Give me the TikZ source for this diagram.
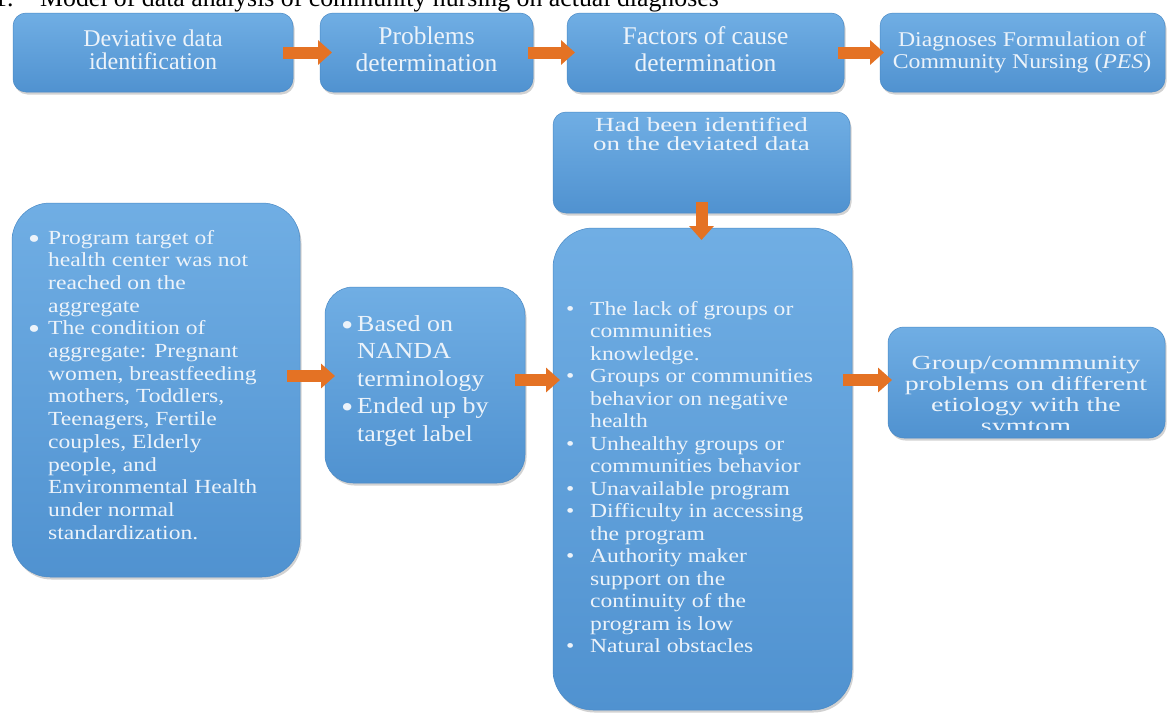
\documentclass[tikz,border=0pt]{standalone}
\usepackage{fontspec}
\setmainfont{Liberation Serif}
\newfontfamily\fsA[FakeStretch=1.18]{Liberation Serif}
\newfontfamily\fsB[FakeStretch=1.13]{Liberation Serif}
\newfontfamily\fsC[FakeStretch=1.35]{Liberation Serif}
\newfontfamily\fsD[FakeStretch=1.40]{Liberation Serif}
\usetikzlibrary{shadows,arrows.meta,calc}

\definecolor{boxtop}{RGB}{112,174,228}
\definecolor{boxbot}{RGB}{80,146,208}
\definecolor{boxline}{RGB}{74,138,198}
\definecolor{txtwhite}{RGB}{236,243,250}
\definecolor{arrorange}{RGB}{228,114,36}

\newcommand{\ctab}[1]{\begin{tabular}[t]{@{}c@{}}#1\end{tabular}}
\newcommand{\ltab}[1]{\begin{tabular}[t]{@{}l@{}}#1\end{tabular}}
\newlength{\bw}
\newcommand{\bscale}{1}
\newcommand{\blow}{0ex}
\newcommand{\bu}{\makebox[\bw][l]{\raisebox{\blow}{\scalebox{\bscale}{\textbullet}}}}
\newcommand{\nb}{\hspace*{\bw}}

\begin{document}
\begin{tikzpicture}[x=1pt,y=-1pt,
  box/.style={draw=boxline, line width=0.5pt, top color=boxtop, bottom color=boxbot,
    drop shadow={shadow xshift=1.5pt, shadow yshift=-2.5pt, opacity=0.35},
    anchor=north west, inner sep=0pt, outer sep=0pt},
  tx/.style={text=txtwhite, inner sep=0pt, anchor=base},
  txl/.style={text=txtwhite, inner sep=0pt, anchor=base west},
  conn/.style={draw=arrorange, line width=12pt, -{Triangle[width=24pt,length=14pt]}}
]
\useasboundingbox (0,0) rectangle (1168,720);
\fill[white] (0,0) rectangle (1168,720);

% title (cut at top edge)
\node[anchor=base west, inner sep=0pt, font=\fontsize{25.8}{30}\selectfont] (title) at (-6,6)
  {\makebox[46pt][l]{1.}Model of data analysis of community nursing on actual diagnoses};

% top row boxes
\node[box, rounded corners=13pt, minimum width=280pt, minimum height=79pt] (b1) at (13,13) {};
\node[box, rounded corners=13pt, minimum width=213pt, minimum height=79pt] (b2) at (320,13) {};
\node[box, rounded corners=13pt, minimum width=277pt, minimum height=79pt] (b3) at (567,13) {};
\node[box, rounded corners=13pt, minimum width=285pt, minimum height=79pt] (b4) at (880,13) {};

\node[tx, font=\fontsize{24}{23}\selectfont] (t1) at (153,46) {\ctab{Deviative data\\identification}};
\node[tx, font=\fontsize{25.5}{26.5}\selectfont] (t2) at (426.5,45) {\ctab{Problems\\determination}};
\node[tx, font=\fontsize{25.5}{26.5}\selectfont] (t3) at (705.5,45) {\ctab{Factors of cause\\determination}};
\node[tx, font=\fsB\fontsize{21}{22}\selectfont] (t4) at (1022,46) {\ctab{Diagnoses Formulation of\\Community Nursing (\textit{PES})}};

% second row boxes
\node[box, rounded corners=13pt, minimum width=297pt, minimum height=101pt] (hb) at (553,112) {};
\node[box, rounded corners=40pt, minimum width=299pt, minimum height=482pt] (big) at (553,228) {};
\node[box, rounded corners=38pt, minimum width=288pt, minimum height=374pt] (left) at (12,203) {};
\node[box, rounded corners=28pt, minimum width=200pt, minimum height=196pt] (nanda) at (325,287) {};
\node[box, rounded corners=16pt, minimum width=277pt, minimum height=111pt] (right) at (888,327) {};

\node[tx, font=\fsC\fontsize{20}{19}\selectfont] (thb) at (701.5,131) {\ctab{Had been identified\\on the deviated data}};

\node[txl, font=\fsA\fontsize{20}{22.7}\selectfont] (tleft) at (28,244) {\setlength{\bw}{20pt}\renewcommand{\bscale}{1.45}\renewcommand{\blow}{-0.45ex}\ltab{%
\bu Program target of\\
\nb health center was not\\
\nb reached on the\\
\nb aggregate\\
\bu The condition of\\
\nb aggregate: Pregnant\\
\nb women, breastfeeding\\
\nb mothers, Toddlers,\\
\nb Teenagers, Fertile\\
\nb couples, Elderly\\
\nb people, and\\
\nb Environmental Health\\
\nb under normal\\
\nb standardization.}};

\node[txl, font=\fsB\fontsize{23}{27.5}\selectfont] (tnanda) at (341,331) {\setlength{\bw}{16pt}\renewcommand{\bscale}{1.35}\renewcommand{\blow}{-0.4ex}\ltab{%
\bu Based on\\
\nb NANDA\\
\nb terminology\\
\bu Ended up by\\
\nb target label}};

\node[txl, font=\fsA\fontsize{20}{22.5}\selectfont] (tbig) at (566,315) {\setlength{\bw}{24pt}\ltab{%
\bu The lack of groups or\\
\nb communities\\
\nb knowledge.\\
\bu Groups or communities\\
\nb behavior on negative\\
\nb health\\
\bu Unhealthy groups or\\
\nb communities behavior\\
\bu Unavailable program\\
\bu Difficulty in accessing\\
\nb the program\\
\bu Authority maker\\
\nb support on the\\
\nb continuity of the\\
\nb program is low\\
\bu Natural obstacles}};

\begin{scope}
\clip ($(right.north west)$) rectangle ($(right.south east)+(0,-9)$);
\node[tx, font=\fsD\fontsize{20}{21}\selectfont] (tright) at (1026,369) {\ctab{Group/commmunity\\problems on different\\etiology with the\\symtom}};
\end{scope}

% connectors
\coordinate (rowA) at (0,376);
\coordinate (rowB) at (0,380);
\draw[conn] ($(b1.east)+(-10,0)$) -- ($(b2.west)+(12,0)$);
\draw[conn] ($(b2.east)+(-5,0)$) -- ($(b3.west)+(8,0)$);
\draw[conn] ($(b3.east)+(-6,0)$) -- ($(b4.west)+(4,0)$);
\draw[conn] ($(hb.south)+(0,-11)$) -- ($(hb.south|-big.north)+(0,12)$);
\draw[conn] ($(left.east|-rowA)+(-13,0)$) -- ($(nanda.west|-rowA)+(10,0)$);
\draw[conn] ($(nanda.east|-rowB)+(-10,0)$) -- ($(big.west|-rowB)+(7,0)$);
\draw[conn] ($(big.east|-rowB)+(-9,0)$) -- ($(right.west|-rowB)+(4,0)$);
\end{tikzpicture}
\end{document}
